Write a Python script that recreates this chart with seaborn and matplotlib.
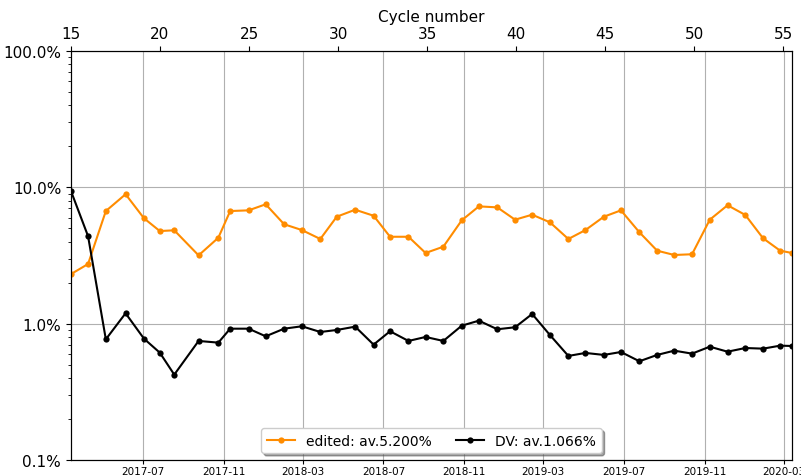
import matplotlib
matplotlib.use("Agg")
import matplotlib.pyplot as plt
import matplotlib.dates as mdates
from matplotlib.ticker import FuncFormatter, FixedLocator
import pandas as pd
import seaborn as sns

# Measurement dates, one per cycle
dates = [
    "2017-03-13", "2017-04-08", "2017-05-05", "2017-06-04", "2017-07-02",
    "2017-07-26", "2017-08-17", "2017-09-23", "2017-10-23", "2017-11-10",
    "2017-12-08", "2018-01-03", "2018-01-31", "2018-02-27", "2018-03-27",
    "2018-04-21", "2018-05-19", "2018-06-16", "2018-07-11", "2018-08-08",
    "2018-09-03", "2018-09-30", "2018-10-28", "2018-11-23", "2018-12-21",
    "2019-01-17", "2019-02-12", "2019-03-11", "2019-04-08", "2019-05-04",
    "2019-06-01", "2019-06-27", "2019-07-25", "2019-08-21", "2019-09-16",
    "2019-10-13", "2019-11-09", "2019-12-06", "2020-01-02", "2020-01-29",
    "2020-02-24", "2020-03-13",
]

# Share of edited entries per cycle (%)
edited = [
    2.31, 2.74, 6.70, 8.90, 5.93, 4.78, 4.84, 3.17, 4.27, 6.70,
    6.78, 7.51, 5.36, 4.86, 4.18, 6.09, 6.85, 6.19, 4.34, 4.34,
    3.30, 3.67, 5.73, 7.25, 7.13, 5.79, 6.30, 5.54, 4.18, 4.86,
    6.09, 6.78, 4.68, 3.43, 3.19, 3.23, 5.79, 7.39, 6.27, 4.23,
    3.43, 3.30,
]

# Share of DV entries per cycle (%)
dv = [
    9.40, 4.38, 0.768, 1.192, 0.776, 0.613, 0.423, 0.747, 0.726, 0.919,
    0.919, 0.808, 0.919, 0.957, 0.869, 0.899, 0.951, 0.702, 0.880, 0.747,
    0.799, 0.747, 0.967, 1.052, 0.910, 0.941, 1.178, 0.826, 0.580, 0.610,
    0.590, 0.620, 0.530, 0.590, 0.634, 0.603, 0.678, 0.623, 0.663, 0.656,
    0.690, 0.686,
]

edited_label = "edited: av.5.200%"
dv_label = "DV: av.1.066%"

cycle_ticks = [15, 20, 25, 30, 35, 40, 45, 50, 55]
cycle_range = (15, 55.5)

df = pd.DataFrame({"date": pd.to_datetime(dates), "edited": edited, "dv": dv})

fig = plt.figure(figsize=(8.01, 4.77), dpi=100)
ax = fig.add_axes([0.0886, 0.0335, 0.9002, 0.8575])

sns.lineplot(data=df, x="date", y="edited", ax=ax, color="#ff8c00",
             marker="o", markersize=4.5, markeredgewidth=0, linewidth=1.5,
             label=edited_label)
sns.lineplot(data=df, x="date", y="dv", ax=ax, color="black",
             marker="o", markersize=4.5, markeredgewidth=0, linewidth=1.5,
             label=dv_label)

ax.set_yscale("log")
ax.set_ylim(0.1, 100)
ax.yaxis.set_major_formatter(FuncFormatter(lambda v, p: f"{v:.1f}%"))
ax.tick_params(axis="y", labelsize=11)
ax.set_xlim(df["date"].iloc[0], df["date"].iloc[-1])
ax.xaxis.set_major_locator(mdates.MonthLocator(bymonth=[3, 7, 11]))
ax.xaxis.set_major_formatter(mdates.DateFormatter("%Y-%m"))
ax.tick_params(axis="x", labelsize=7.5, length=3, pad=1.5)
ax.set_xlabel("")
ax.set_ylabel("")
ax.grid(True, which="major", color="#b0b0b0", linewidth=0.8)

ax.legend(loc="lower center", fontsize=10, shadow=True, ncol=2,
          bbox_to_anchor=(0.5, 0.0), framealpha=1.0, columnspacing=1.8)

top = ax.twiny()
top.set_xlim(*cycle_range)
top.xaxis.set_major_locator(FixedLocator(cycle_ticks))
top.tick_params(axis="x", labelsize=11)
top.set_xlabel("Cycle number", fontsize=11)

fig.savefig("out.png", dpi=100)
